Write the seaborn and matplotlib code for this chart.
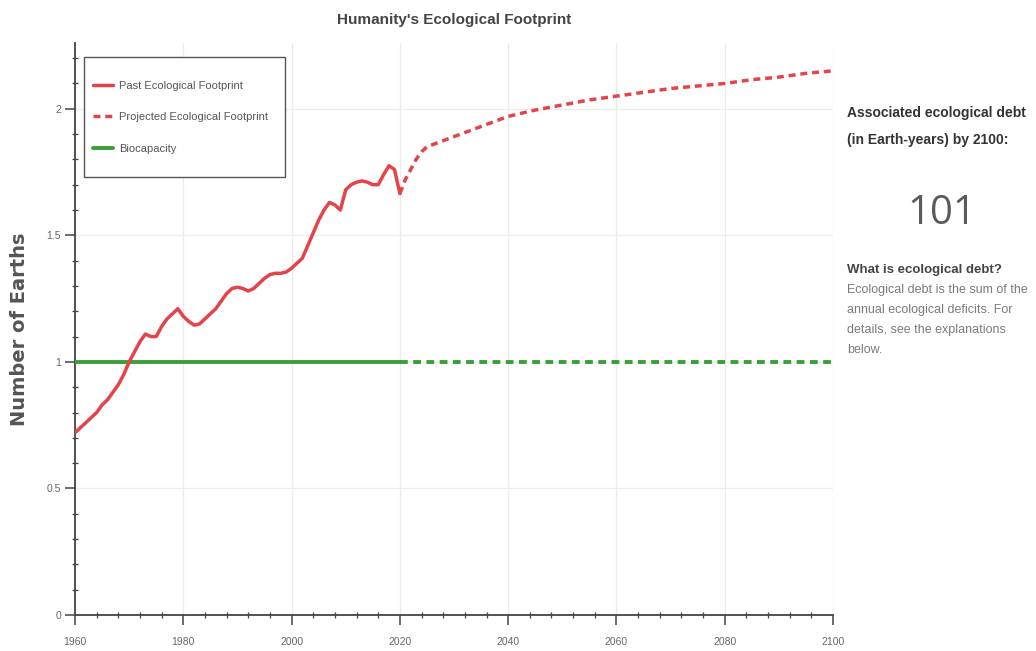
"""Humanity's Ecological Footprint: past / projected footprint vs biocapacity."""

import matplotlib

matplotlib.use("Agg")
import matplotlib.pyplot as plt
import pandas as pd
import seaborn as sns
from matplotlib.patches import Rectangle
from matplotlib.ticker import FuncFormatter, MultipleLocator

# ---- data ----
PAST_YEARS = list(range(1960, 2021))
PAST_EARTHS = [
    0.72, 0.74, 0.76, 0.78, 0.80, 0.83, 0.85, 0.88, 0.91, 0.95,   # 1960s
    1.00, 1.04, 1.08, 1.11, 1.10, 1.10, 1.14, 1.17, 1.19, 1.21,   # 1970s
    1.18, 1.16, 1.145, 1.15, 1.17, 1.19, 1.21, 1.24, 1.27, 1.29,  # 1980s
    1.295, 1.29, 1.28, 1.29, 1.31, 1.33, 1.345, 1.35, 1.35, 1.355,  # 1990s
    1.37, 1.39, 1.41, 1.46, 1.51, 1.56, 1.60, 1.63, 1.62, 1.60,   # 2000s
    1.68, 1.70, 1.71, 1.715, 1.71, 1.70, 1.70, 1.74, 1.775, 1.76,  # 2010s
    1.665,                                                        # 2020
]

PROJ_YEARS = [2020, 2021, 2022, 2023, 2024, 2025, 2030, 2035, 2040, 2045,
              2050, 2055, 2060, 2065, 2070, 2075, 2080, 2085, 2090, 2095, 2100]
PROJ_EARTHS = [1.665, 1.72, 1.76, 1.80, 1.83, 1.85, 1.89, 1.93, 1.97, 1.995,
               2.015, 2.035, 2.05, 2.065, 2.08, 2.09, 2.10, 2.115, 2.125, 2.14, 2.15]

BIO_PAST_YEARS = [1960, 2020]
BIO_PAST = [1.0, 1.0]
BIO_PROJ_YEARS = [2020, 2100]
BIO_PROJ = [1.0, 1.0]

DEBT_EARTH_YEARS = "101"

RED = "#e5434b"
GREEN = "#3a9f3a"
INK = "#444444"
GRID = "#ececec"
SANS = ["Liberation Sans", "DejaVu Sans"]

past = pd.DataFrame({"year": PAST_YEARS, "earths": PAST_EARTHS})
proj = pd.DataFrame({"year": PROJ_YEARS, "earths": PROJ_EARTHS})
bio_past = pd.DataFrame({"year": BIO_PAST_YEARS, "earths": BIO_PAST})
bio_proj = pd.DataFrame({"year": BIO_PROJ_YEARS, "earths": BIO_PROJ})

sns.set_style("white")
plt.rcParams.update({
    "font.family": SANS,
    "axes.edgecolor": INK,
})

fig = plt.figure(figsize=(10.36, 6.51), dpi=100)
ax = fig.add_axes([0.0724, 0.0553, 0.7317, 0.8787])

dash = (0, (2.0, 1.4))
sns.lineplot(data=bio_past, x="year", y="earths", ax=ax, color=GREEN,
             lw=2.8, label="Biocapacity", zorder=3)
sns.lineplot(data=bio_proj, x="year", y="earths", ax=ax, color=GREEN,
             lw=2.8, linestyle=dash, label="_nolegend_", zorder=3)
sns.lineplot(data=past, x="year", y="earths", ax=ax, color=RED,
             lw=2.5, label="Past Ecological Footprint", zorder=4)
sns.lineplot(data=proj, x="year", y="earths", ax=ax, color=RED,
             lw=2.5, linestyle=dash, label="Projected Ecological Footprint", zorder=4)

ax.set_xlim(1960, 2100)
ax.set_ylim(0, 2.26)
ax.xaxis.set_major_locator(MultipleLocator(20))
ax.xaxis.set_minor_locator(MultipleLocator(4))
ax.yaxis.set_major_locator(MultipleLocator(0.5))
ax.yaxis.set_minor_locator(MultipleLocator(0.1))
ax.yaxis.set_major_formatter(FuncFormatter(lambda v, _: f"{v:g}"))
ax.xaxis.set_major_formatter(FuncFormatter(lambda v, _: f"{v:.0f}"))

ax.grid(True, which="major", color=GRID, lw=0.9)
ax.set_axisbelow(True)
sns.despine(ax=ax, top=True, right=True)
for side in ("left", "bottom"):
    ax.spines[side].set_linewidth(1.3)
    ax.spines[side].set_color(INK)

ax.tick_params(which="both", bottom=True, left=True, top=False, right=False)
ax.tick_params(which="major", direction="out", length=7, width=1.1,
               color=INK, labelsize=7.5, labelcolor="#666666", pad=3)
ax.tick_params(axis="x", which="major", pad=9)
ax.tick_params(which="minor", direction="inout", length=5, width=0.9, color=INK)

ax.set_xlabel("")
ax.set_ylabel("Number of Earths", fontsize=14, fontweight="bold",
              color="#555555", family=["DejaVu Sans"], labelpad=13)
ax.set_title("Humanity's Ecological Footprint", fontsize=11, fontweight="bold",
             color=INK, pad=14)

# legend in the original order: past, projected, biocapacity
handles, labels = ax.get_legend_handles_labels()
order = [labels.index(n) for n in
         ("Past Ecological Footprint", "Projected Ecological Footprint", "Biocapacity")]
leg = ax.legend([handles[i] for i in order], [labels[i] for i in order],
                loc="upper left", bbox_to_anchor=(0.0237, 0.934), borderaxespad=0,
                frameon=False, prop={"family": SANS, "size": 8},
                labelcolor="#555555", borderpad=0, labelspacing=1.95,
                handlelength=1.8, handletextpad=0.55)
leg.set_zorder(6)
# square legend box drawn separately so its padding matches the original
ax.add_patch(Rectangle((0.0119, 0.7657), 0.265, 0.2098, transform=ax.transAxes,
                       facecolor="white", edgecolor="#555555", lw=1.0, zorder=5))

# side panel text
fig.text(0.818, 0.826, "Associated ecological debt", fontsize=10, fontweight="bold",
         color="#333333", va="center", ha="left")
fig.text(0.818, 0.785, "(in Earth-years) by 2100:", fontsize=10, fontweight="bold",
         color="#333333", va="center", ha="left")
fig.text(0.909, 0.672, DEBT_EARTH_YEARS, fontsize=29, color="#5a5a5a",
         va="center", ha="center", family=["Open Sans", "DejaVu Sans"])
fig.text(0.818, 0.585, "What is ecological debt?", fontsize=9.5, fontweight="bold",
         color="#444444", va="center", ha="left")
for i, line in enumerate(["Ecological debt is the sum of the",
                          "annual ecological deficits. For",
                          "details, see the explanations",
                          "below."]):
    fig.text(0.818, 0.554 - i * 0.0307, line, fontsize=9, color="#7a7a7a",
             va="center", ha="left")

fig.savefig("out.png", dpi=100, facecolor="white")
